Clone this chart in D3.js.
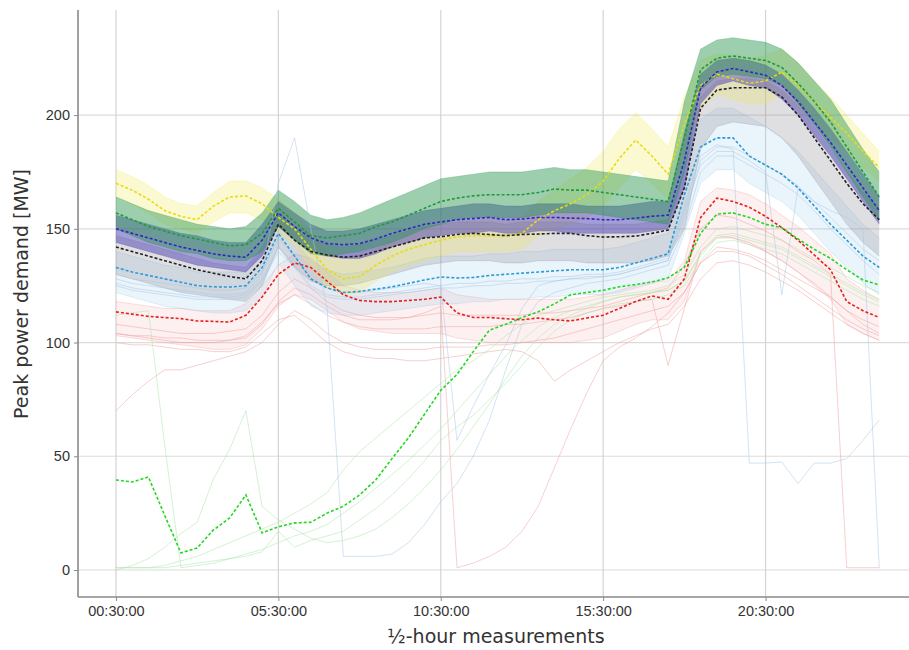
<!DOCTYPE html>
<html>
<head>
<meta charset="utf-8">
<script src="https://cdn.jsdelivr.net/npm/d3@7"></script>
<style>
  body { margin: 0; background: #fff; }
  svg { display: block; font-family: "DejaVu Sans", sans-serif; }
</style>
</head>
<body>
<svg></svg>
<script>
// x tick labels (half-hour slot index -> label)
let tickIdx = [0, 10, 20, 30, 40]
let tickLabels = ['00:30:00', '05:30:00', '10:30:00', '15:30:00', '20:30:00']
let yTicks = [0, 50, 100, 150, 200]

// cluster centroids (dashed lines), 48 half-hour values each
let yellowMean = [170,167,163,158,155.5,154,160,164,164.5,161,155,150,141,132,128,129,134,138,141,143,145,146.5,147,147,147,148,154,158,161,165,171,181,189,182,174,196,213,218,216,214,215,219,213,206,199,192,184,177]
let greenMean = [157,154,151,149,147,145.5,144,142.5,143,148,159,153,147,146,147,148,151,153,156,159,162,163.5,164.5,165,165,165,166,167.5,167,167,166,165,164,163,162,190,220,225,226,225,224,221,214,206,197,186,175,164]
let purpleMean = [150,148,146,144,142,140.5,139,138,137.5,145,157,151,146,143.5,143,143.5,145.5,148,150,152,153,154,154.5,155,154,154.3,155,155,154.7,154.5,154,154,154.7,155.5,156,180,212,219,220.5,219,217.5,213,206,197,188,178,168,158]
let blackMean = [142,140,138,136,134,132,130.5,129,128,136,152,145,140,138.5,137.5,138,140,142,144,146,146.5,147.5,148,147.5,147,147.5,147.7,148,148,147,146.4,146.5,146.8,148,149.5,168,203,211,212,212,212,208,200,190,180,170,161,154]
let skyMean = [133,131,129.5,128,126.5,125,124.5,124.4,125,133,148,138,128,124,122,122.5,123.5,124.5,126,127.5,128.8,128.4,128.6,129.5,130,130.5,131,131.5,132,132,132,133,135,137,139,165,186,190,190,182,178,174,168,160,152,145,138,133]
let redMean = [113.5,112.5,111.5,111,110.5,109.5,109.3,109,112,120,130,135,133,127,121,118.5,118,118,118.5,119,120,113,111,111,110.5,110,110.8,110,109.5,110.8,112,115,118,120.5,119,128,155,163.5,162,159.5,155.5,150.5,145,138.5,132,118,114,111]
let limeMean = [39.6,38.7,40.9,24,7.5,9.7,17.6,22.9,33,16.3,19,20.7,21,25,28,33,39.6,49,58,68.5,79,86,96,105.5,108,111,113.5,117,121,122,123,124.5,125.5,126.6,128.5,133,148,156.5,157,155,152,150.5,145.5,141,137,132,127.5,125.3]

// spread of the member curves of each cluster (upper / lower edge)
let yellowHi = [176,173,169,164,161,160,166,171,171,168,163,157,149,140,136,137,141,145,148,150,152,153,154,154,154,155,162,167,172,177,184,194,201,194,186,208,224,227,226,225,226,229,223,215,208,200,192,184]
let yellowLo = [164,161,157,152,150,148,153,157,157,154,148,143,133,124,121,122,127,131,134,136,138,140,140,140,140,141,147,150,152,155,160,168,176,170,163,183,203,209,207,205,205,209,203,196,190,184,177,171]
let greenHi = [164,161,158,156,154,152,151,150,151,157,167,162,156,154,155,157,160,163,166,169,172,173,174,175,175,175,176,177,176,176,175,174,173,172,171,206,229,233,234,233,232,229,223,215,207,196,185,175]
let greenLo = [150,147,144,142,140,139,137,136,136,140,151,145,139,138,139,140,142,144,147,150,152,154,155,155,155,155,156,157,157,157,156,155,154,153,152,175,211,217,218,217,216,213,205,196,186,175,164,154]
let purpleHi = [156,154,152,150,148,147,145,144,144,152,162,157,152,149,149,150,152,154,156,158,159,160,161,161,160,160,161,161,161,160,160,160,161,162,162,192,218,224,225,224,222,218,211,203,194,184,174,164]
let purpleLo = [144,142,140,138,136,134,133,132,131,138,151,145,140,138,137,137,139,142,144,146,147,148,148,149,148,148,149,149,148,148,148,148,148,149,150,168,205,213,215,213,212,207,200,191,182,172,162,152]
let grayHi = [147,145,143,141,139,137,135,134,133,142,156,150,145,143,142,143,145,147,149,151,152,153,153,153,152,153,153,153,153,152,152,152,152,153,154,176,208,215,216,216,215,211,204,195,185,175,166,159]
let grayLo = [130,128,126,124,122,121,120,119,118,125,142,133,127,125,125,126,128,130,132,134,135,136,136,136,135,135,136,136,136,135,135,135,135,136,138,150,185,195,197,196,195,190,182,172,162,152,144,138]
let skyHi = [140,138,136,134,133,131,131,131,131,140,152,145,136,132,130,131,132,133,135,137,138,138,138,139,139,140,140,141,141,141,141,142,144,146,148,178,198,203,203,199,195,190,184,176,168,160,152,146]
let skyLo = [122,120,118,116,115,114,113,113,114,120,135,125,116,113,112,112,113,114,115,116,117,117,118,118,119,119,120,120,121,121,121,122,124,126,128,148,170,176,176,170,166,162,156,148,140,133,126,121]
let redHi = [118,117,116,115,115,114,114,114,117,125,134,139,137,131,125,123,122,122,122,123,124,121,120,119,119,119,119,119,119,120,121,123,125,127,127,136,162,168,167,165,161,156,151,145,139,128,123,119]
let redLo = [103,102,101,100,99,98,97,97,99,106,116,121,119,114,109,106,105,104,104,104,104,102,101,100,100,100,100,100,100,101,102,105,108,110,110,118,140,147,146,143,140,136,131,125,119,108,104,101]

// single member curves that stand out from their clusters
let red1 = [70,77,83,88,88,90,92,94,96,100,108,114,110,104,100,98,97,97,97,97,98,98,98,99,99,100,101,102,104,106,108,110,112,114,116,122,135,142,141,139,136,132,128,124,120,114,108,104]
let red2 = [104,103,102,101,100,100,100,101,102,108,118,124,121,116,112,110,110,110,111,113,116,1,3,6,10,17,28,45,62,78,92,98,102,107,113,122,135,140,140,138,134,130,125,120,115,110,106,103]
let red3 = [108,107,106,105,104,104,104,105,106,112,122,128,124,118,114,112,111,111,111,112,113,112,112,112,112,112,113,113,114,115,116,118,120,122,124,134,150,156,155,152,149,145,140,136,130,1,1,1]
let red4 = [100,99,99,98,97,97,96,96,98,104,110,112,106,100,96,94,93,93,92,92,93,94,95,96,97,96,92,83,88,92,96,100,103,106,108,116,128,135,136,134,131,127,123,118,113,108,104,101]
let red5 = [104,103,103,102,102,101,101,101,103,109,117,121,117,112,109,107,106,106,106,106,107,107,107,107,108,108,109,110,111,113,115,116,118,119,90,115,140,146,146,144,140,136,131,126,120,114,110,107]
let sky1 = [128,126,125,124,123,122,121,121,122,130,170,190,150,115,6,6,6,7,12,20,30,38,50,66,88,108,118,122,124,126,127,128,130,132,134,150,175,182,182,178,174,170,165,158,150,143,136,130]
let sky2 = [130,128,127,126,125,124,123,123,124,131,146,138,128,124,122,122,123,124,125,126,125,57,72,86,99,115,125,127,128,129,129,130,132,134,136,155,180,186,186,182,178,174,169,162,155,148,141,136]
let sky3 = [126,124,123,122,121,120,120,120,121,128,142,134,125,121,120,120,121,122,123,124,125,126,126,127,127,128,128,129,129,130,130,131,133,135,137,160,182,187,185,47,47,47.5,38,47,47,49,57,66]
let sky4 = [125,123,122,121,120,119,119,119,120,127,140,133,124,120,119,119,120,121,122,123,124,124,125,125,126,126,127,127,128,128,129,130,132,134,136,158,178,184,184,180,175,121,168,162,158,155,150,1]
let lime1 = [1,1,1,2,4,6,9,12,15,18,21,25,29,34,44,52,58,64,70,76,82,88,92,97,103,108,112,114,116,118,120,121,122,123,125,130,142,150,151,149,147,145,141,137,133,129,125,122]
let lime2 = [0,2,5,10,16,21,40,53,70,28,22,18,14,12,13,15,18,23,29,36,44,53,63,73,84,94,102,108,112,115,118,120,121,122,123,127,139,147,148,146,144,142,138,134,130,126,122,119]
let lime3 = [112,113,114,55,1,2,3,5,7,9,12,15,17,20,25,30,36,42,48,55,62,70,78,86,94,101,107,111,114,116,118,120,121,122,123,127,138,146,147,145,143,141,137,133,129,125,121,118]
let lime4 = [1,1,1,1,2,3,4,5,6,8,17,10,13,15,17,22,27,33,40,48,57,63,68,75,82,90,98,105,110,113,115,117,118,119,121,125,136,144,145,143,141,139,135,131,127,123,119,116]

let bands = [
    { hi: redHi, lo: redLo, color: '#f08080', op: 0.12 },
    { hi: skyHi, lo: skyLo, color: '#8cc4e8', op: 0.18 },
    { hi: grayHi, lo: grayLo, color: '#8c8c98', op: 0.28 },
    { hi: yellowHi, lo: yellowLo, color: '#f0e650', op: 0.26 },
    { hi: purpleHi, lo: purpleLo, color: '#4a3db0', op: 0.5 },
    { hi: greenHi, lo: greenLo, color: '#25954c', op: 0.45 }
]
let strays = [
    { v: red1, color: '#f4a0a0' }, { v: red2, color: '#f4a0a0' }, { v: red3, color: '#f4a0a0' },
    { v: red4, color: '#f4a0a0' }, { v: red5, color: '#f4a0a0' },
    { v: sky1, color: '#a8c8e8' }, { v: sky2, color: '#a8c8e8' }, { v: sky3, color: '#a8c8e8' },
    { v: sky4, color: '#a8c8e8' },
    { v: lime1, color: '#a8e6a8' }, { v: lime2, color: '#a8e6a8' }, { v: lime3, color: '#a8e6a8' },
    { v: lime4, color: '#a8e6a8' }
]
let means = [
    { v: redMean, color: '#e8201e' },
    { v: limeMean, color: '#22d822' },
    { v: skyMean, color: '#2b9ad8' },
    { v: yellowMean, color: '#e6dc10' },
    { v: blackMean, color: '#222222' },
    { v: purpleMean, color: '#3325c0' },
    { v: greenMean, color: '#1f9a3c' }
]

let width = 909
let height = 650
let svg = d3.select('svg').attr('width', width).attr('height', height)

let slots = d3.range(yellowMean.length)
let xScale = d3.scaleLinear().domain([-2.35, 49.35]).range([77.8, 917.4])
let yScale = d3.scaleLinear().domain([-11.87, 246.2]).range([597, 10])

let plotLeft = 78, plotBottom = 597, plotTop = 10, plotRight = 909

// grid
svg.append('g').selectAll('line')
    .data(yTicks)
    .enter()
    .append('line')
    .attr('x1', plotLeft).attr('x2', plotRight)
    .attr('y1', (d) => yScale(d)).attr('y2', (d) => yScale(d))
    .attr('stroke', '#dcdcdc').attr('stroke-width', 1.2)
svg.append('g').selectAll('line')
    .data(tickIdx)
    .enter()
    .append('line')
    .attr('x1', (d) => xScale(d)).attr('x2', (d) => xScale(d))
    .attr('y1', plotTop).attr('y2', plotBottom)
    .attr('stroke', '#d4d4d4').attr('stroke-width', 1.2)

let line = d3.line().x((d, i) => xScale(i)).y((d) => yScale(d))

let plot = svg.append('g')

// cluster spread
bands.forEach((b) => {
    plot.append('path')
        .datum(slots)
        .attr('d', d3.area().x((i) => xScale(i)).y0((i) => yScale(b.lo[i])).y1((i) => yScale(b.hi[i])))
        .attr('fill', b.color)
        .attr('fill-opacity', b.op)
    ;[b.hi, b.lo].forEach((edge) => {
        plot.append('path')
            .datum(edge)
            .attr('d', line)
            .attr('fill', 'none')
            .attr('stroke', b.color)
            .attr('stroke-opacity', 0.25)
            .attr('stroke-width', 1)
    })
})

// outlying member curves
plot.selectAll('.stray')
    .data(strays)
    .enter()
    .append('path')
    .attr('class', 'stray')
    .attr('d', (d) => line(d.v))
    .attr('fill', 'none')
    .attr('stroke', (d) => d.color)
    .attr('stroke-opacity', 0.5)
    .attr('stroke-width', 1)

// centroids
plot.selectAll('.mean')
    .data(means)
    .enter()
    .append('path')
    .attr('class', 'mean')
    .attr('d', (d) => line(d.v))
    .attr('fill', 'none')
    .attr('stroke', (d) => d.color)
    .attr('stroke-width', 1.6)
    .attr('stroke-dasharray', '3,2')

// axes
let xAxis = d3.axisBottom(xScale)
    .tickValues(tickIdx)
    .tickFormat((d, i) => tickLabels[i])
    .tickSizeOuter(0)
    .tickSize(4)
    .tickPadding(5)
let yAxis = d3.axisLeft(yScale)
    .tickValues(yTicks)
    .tickSizeOuter(0)
    .tickSize(4)
    .tickPadding(4)

let gx = svg.append('g')
    .attr('transform', `translate(0, ${plotBottom})`)
    .call(xAxis)
gx.select('.domain').attr('d', `M${plotLeft},0H${plotRight}`)
let gy = svg.append('g')
    .attr('transform', `translate(${plotLeft}, 0)`)
    .call(yAxis)
gy.select('.domain').attr('d', `M0,${plotTop}V${plotBottom}`)

;[gx, gy].forEach((g) => {
    g.select('.domain').attr('stroke', '#8a8a8a').attr('stroke-width', 1.6)
    g.selectAll('.tick line').attr('stroke', '#8a8a8a')
    g.selectAll('.tick text').attr('fill', '#333').style('font-size', '14.5px')
})

svg.append('text')
    .attr('x', 496).attr('y', 643)
    .attr('text-anchor', 'middle')
    .attr('fill', '#333')
    .style('font-size', '19px')
    .text('½-hour measurements')

svg.append('text')
    .attr('transform', 'translate(28, 294) rotate(-90)')
    .attr('text-anchor', 'middle')
    .attr('fill', '#333')
    .style('font-size', '19px')
    .text('Peak power demand [MW]')
</script>
</body>
</html>
